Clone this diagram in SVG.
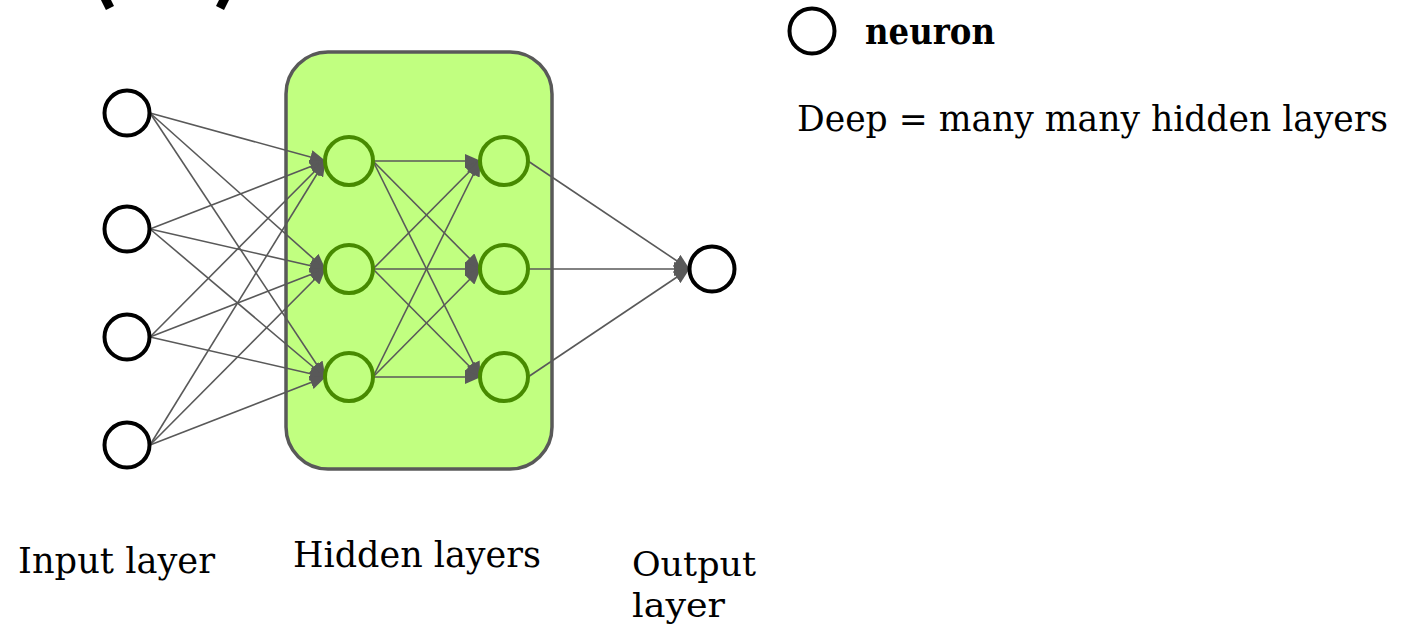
<svg xmlns="http://www.w3.org/2000/svg" width="1412" height="632" viewBox="0 0 1412 632">
  <style>
    .label { font-family: "DejaVu Serif", "Liberation Serif", serif; font-size: 35px; fill: #000; }
    .small { font-size: 33px; }
    .bold { font-weight: bold; }
    .plain { fill: #fff; stroke: #000; stroke-width: 4; }
    .hidden { fill: none; stroke: #478a00; stroke-width: 4; }
    .edge { fill: none; stroke: #595959; stroke-width: 1.6; marker-end: url(#head); }
  </style>
  <defs>
    <marker id="head" markerUnits="userSpaceOnUse" markerWidth="16" markerHeight="14" refX="15" refY="7" orient="auto">
      <path d="M0,0 L16,7 L0,14 Z" fill="#595959"/>
    </marker>
  </defs>

  <rect width="1412" height="632" fill="#fff"/>

  <!-- bracket strokes cut off at the top edge -->
  <g id="brackets" stroke="#000" stroke-width="9" fill="none" stroke-linecap="butt">
    <path d="M104,-4 L110,8"/>
    <path d="M226,-4 L220,8"/>
  </g>

  <!-- hidden layer box -->
  <g id="hidden-box">
    <rect x="286" y="52" width="266" height="417" rx="42" ry="42" fill="#c1ff80" stroke="#595959" stroke-width="3.5"/>
  </g>

  <!-- connectors -->
  <g id="connectors">
    <!-- input -> hidden 1 -->
    <path class="edge" d="M150,113 L325,161"/>
    <path class="edge" d="M150,113 L325,269"/>
    <path class="edge" d="M150,113 L325,377"/>
    <path class="edge" d="M150,229 L325,161"/>
    <path class="edge" d="M150,229 L325,269"/>
    <path class="edge" d="M150,229 L325,377"/>
    <path class="edge" d="M150,337 L325,161"/>
    <path class="edge" d="M150,337 L325,269"/>
    <path class="edge" d="M150,337 L325,377"/>
    <path class="edge" d="M150,445 L325,161"/>
    <path class="edge" d="M150,445 L325,269"/>
    <path class="edge" d="M150,445 L325,377"/>
    <!-- hidden 1 -> hidden 2 -->
    <path class="edge" d="M373,161 L480,161"/>
    <path class="edge" d="M373,161 L480,269"/>
    <path class="edge" d="M373,161 L480,377"/>
    <path class="edge" d="M373,269 L480,161"/>
    <path class="edge" d="M373,269 L480,269"/>
    <path class="edge" d="M373,269 L480,377"/>
    <path class="edge" d="M373,377 L480,161"/>
    <path class="edge" d="M373,377 L480,269"/>
    <path class="edge" d="M373,377 L480,377"/>
    <!-- hidden 2 -> output -->
    <path class="edge" d="M528,161 L689,269"/>
    <path class="edge" d="M528,269 L689,269"/>
    <path class="edge" d="M528,377 L689,269"/>
  </g>

  <!-- input layer -->
  <g id="in1"><circle class="plain" cx="127" cy="113" r="22.5"/></g>
  <g id="in2"><circle class="plain" cx="127" cy="229" r="22.5"/></g>
  <g id="in3"><circle class="plain" cx="127" cy="337" r="22.5"/></g>
  <g id="in4"><circle class="plain" cx="127" cy="445" r="22.5"/></g>

  <!-- hidden layers -->
  <g id="h1a"><circle class="hidden" cx="349" cy="161" r="24"/></g>
  <g id="h1b"><circle class="hidden" cx="349" cy="269" r="24"/></g>
  <g id="h1c"><circle class="hidden" cx="349" cy="377" r="24"/></g>
  <g id="h2a"><circle class="hidden" cx="504" cy="161" r="24"/></g>
  <g id="h2b"><circle class="hidden" cx="504" cy="269" r="24"/></g>
  <g id="h2c"><circle class="hidden" cx="504" cy="377" r="24"/></g>

  <!-- output layer -->
  <g id="out"><circle class="plain" cx="712" cy="269" r="22.5"/></g>

  <!-- legend -->
  <g id="legend">
    <circle class="plain" cx="812" cy="31" r="22.5"/>
    <text class="label bold" x="865" y="44" textLength="130" lengthAdjust="spacingAndGlyphs">neuron</text>
    <text class="label" x="797" y="131" textLength="591" lengthAdjust="spacingAndGlyphs">Deep = many many hidden layers</text>
  </g>

  <!-- layer captions -->
  <g id="captions">
    <text class="label" x="18" y="573" textLength="197" lengthAdjust="spacingAndGlyphs">Input layer</text>
    <text class="label" x="293" y="567" textLength="248" lengthAdjust="spacingAndGlyphs">Hidden layers</text>
    <text class="label small" x="632" y="576" textLength="124" lengthAdjust="spacingAndGlyphs">Output</text>
    <text class="label small" x="632" y="617" textLength="93" lengthAdjust="spacingAndGlyphs">layer</text>
  </g>
</svg>
